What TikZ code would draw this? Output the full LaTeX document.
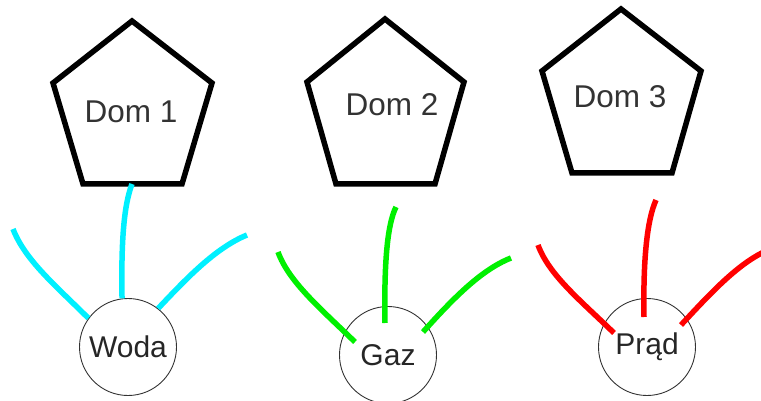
\documentclass[tikz,border=0pt]{standalone}
\usepackage{fontspec}
\setmainfont{Liberation Sans}
\usetikzlibrary{calc}
\definecolor{aqua}{RGB}{0,240,255}
\definecolor{lime}{RGB}{0,240,0}
\definecolor{pred}{RGB}{255,0,0}
\begin{document}
\begin{tikzpicture}[x=1pt,y=-1pt,
  house/.style={draw=black,line width=5.5pt,line join=miter},
  lbl/.style={font=\fontsize{31.5}{36}\selectfont,text=black!80,inner sep=0pt},
  util/.style={circle,draw=black!80,line width=0.9pt,minimum size=97pt,inner sep=0pt,font=\fontsize{30}{35}\selectfont,text=black!85},
  pipe/.style={line width=5.5pt}]
\useasboundingbox (0,0) rectangle (761,401);
% houses
\draw[house] (132,21) -- (212,83) -- (182,184) -- (83,184) -- (53,83) -- cycle;
\node[lbl] (dom1) at (131,112) {Dom 1};
\coordinate (dom1b) at (132,184);
\draw[house] (385,19) -- (464,82) -- (435,184) -- (336,184) -- (307,82) -- cycle;
\node[lbl] (dom2) at (392,105) {Dom 2};
\draw[house] (621,9) -- (701,71) -- (672,173) -- (572,173) -- (542,71) -- cycle;
\node[lbl] (dom3) at (620,97) {Dom 3};
% utilities
\node[util] (woda) at (128,347) {Woda};
\node[util] (gaz) at (388,355) {Gaz};
\node[util] (prad) at (647,347) {Prąd};
% free ends
\coordinate (wL) at (13,229);
\coordinate (wR) at (247,235);
\coordinate (gL) at (278,252);
\coordinate (gM) at (396,207);
\coordinate (gR) at (511,258);
\coordinate (pL) at (538,245);
\coordinate (pM) at (656,200);
\coordinate (pR) at (766,251);
% water
\draw[pipe,aqua] (woda.144) .. controls (55,285) and (25,260) .. (wL);
\draw[pipe,aqua] (woda.97) .. controls (121,240) and (124,205) .. (dom1b);
\draw[pipe,aqua] (woda.52) .. controls (185,280) and (215,248) .. (wR);
% gas
\draw[pipe,lime] ($(gaz.center)+(-33,-13)$) .. controls (320,308) and (289,282) .. (gL);
\draw[pipe,lime] ($(gaz.center)+(-3,-32)$) .. controls (384,265) and (387,225) .. (gM);
\draw[pipe,lime] ($(gaz.center)+(35,-23)$) .. controls (450,302) and (480,270) .. (gR);
% power
\draw[pipe,pred] ($(prad.center)+(-33,-14)$) .. controls (580,300) and (549,275) .. (pL);
\draw[pipe,pred] ($(prad.center)+(-3,-30)$) .. controls (643,260) and (647,220) .. (pM);
\draw[pipe,pred] ($(prad.center)+(34,-22)$) .. controls (708,296) and (737,264) .. (pR);
\end{tikzpicture}
\end{document}
